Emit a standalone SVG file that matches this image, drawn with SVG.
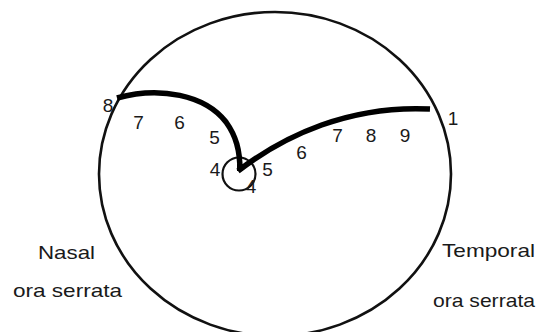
<svg xmlns="http://www.w3.org/2000/svg" width="544" height="332" viewBox="0 0 544 332">
<style>
.outline{fill:none;stroke:#111;stroke-width:2.6}
.fibre{fill:none;stroke:#000;stroke-width:5.5;stroke-linecap:butt}
.num{font-family:"Liberation Sans",Arial,sans-serif;font-size:19px;fill:#1a1a1a;text-anchor:middle}
.lbl{font-family:"Liberation Sans",Arial,sans-serif;font-size:18.5px;fill:#1a1a1a}
</style>
<rect width="544" height="332" fill="#fff"/>
<g id="retina">
<ellipse class="outline" cx="275" cy="174" rx="176" ry="162"/>
</g>
<g id="fovea">
<circle cx="239" cy="174" r="16.5" fill="none" stroke="#111" stroke-width="2.2"/>
</g>
<g id="connectors">
<path class="fibre" d="M 117 98 C 160 86, 205 95, 226 122 C 236 136, 240 150, 240 171"/>
<path class="fibre" d="M 238 171 C 285 135, 350 105, 430 109"/>
<rect x="237" y="164" width="6" height="7" fill="#000"/>
</g>
<g id="numbers">
<text class="num" x="108" y="112">8</text>
<text class="num" x="138.5" y="128.5">7</text>
<text class="num" x="179.5" y="128.5">6</text>
<text class="num" x="214.5" y="143.5">5</text>
<text class="num" x="215" y="175.5">4</text>
<text class="num" x="251" y="192.5">4</text>
<text class="num" x="267.5" y="175.5">5</text>
<text class="num" x="301.5" y="158.5">6</text>
<text class="num" x="337.5" y="141.5">7</text>
<text class="num" x="371" y="141.5">8</text>
<text class="num" x="405" y="141.5">9</text>
<text class="num" x="453" y="125">1</text>
</g>
<g id="nasal">
<text class="lbl" x="38" y="259" textLength="57" lengthAdjust="spacingAndGlyphs">Nasal</text>
<text class="lbl" x="13" y="297" textLength="109" lengthAdjust="spacingAndGlyphs">ora serrata</text>
</g>
<g id="temporal">
<text class="lbl" x="442" y="257" textLength="93" lengthAdjust="spacingAndGlyphs">Temporal</text>
<text class="lbl" x="433" y="307" textLength="102" lengthAdjust="spacingAndGlyphs">ora serrata</text>
</g>
</svg>
